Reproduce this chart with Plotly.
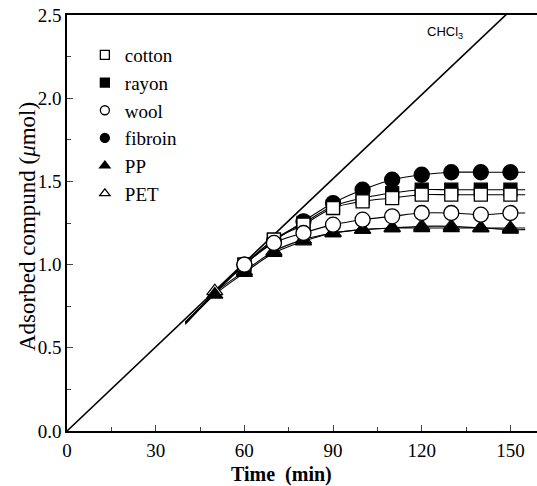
import plotly.graph_objects as go

# ---- data ----
time_min = [50, 60, 70, 80, 90, 100, 110, 120, 130, 140, 150]
cotton  = [None, 1.00, 1.15, 1.24, 1.34, 1.38, 1.40, 1.42, 1.42, 1.42, 1.42]
rayon   = [None, 1.00, 1.15, 1.25, 1.35, 1.40, 1.43, 1.45, 1.45, 1.45, 1.45]
wool    = [None, 1.00, 1.13, 1.19, 1.24, 1.27, 1.29, 1.31, 1.31, 1.30, 1.31]
fibroin = [None, 1.00, 1.14, 1.26, 1.37, 1.45, 1.51, 1.54, 1.555, 1.555, 1.555]
pp      = [0.82, 0.95, 1.07, 1.14, 1.19, 1.21, 1.22, 1.22, 1.22, 1.22, 1.21]
pet     = [0.84, 0.96, 1.08, 1.15, 1.19, 1.21, 1.22, 1.23, 1.23, 1.22, 1.22]

# fitted-curve points (start near t=40, value near t=50 for the curve, end near t=155)
fit_start_t, fit_mid_t, fit_end_t = 40, 50, 155
fit_start = {"cotton": 0.65, "rayon": 0.65, "wool": 0.655, "fibroin": 0.65, "PP": 0.64, "PET": 0.645}
fit_mid = {"cotton": 0.83, "rayon": 0.83, "wool": 0.83, "fibroin": 0.83, "PP": 0.82, "PET": 0.83}
fit_end = {"cotton": 1.42, "rayon": 1.45, "wool": 1.31, "fibroin": 1.555, "PP": 1.21, "PET": 1.22}

# CHCl3 reference line
chcl3_t = [0, 160]
chcl3_v = [0.0, 2.695]

x_ticks = [0, 30, 60, 90, 120, 150]
y_ticks = [0.0, 0.5, 1.0, 1.5, 2.0, 2.5]
y_tick_text = ["0.0", "0.5", "1.0", "1.5", "2.0", "2.5"]

series = {
    "cotton": cotton, "rayon": rayon, "wool": wool,
    "fibroin": fibroin, "PP": pp, "PET": pet,
}
styles = {
    "cotton":  dict(symbol="square", color="white", size=13),
    "rayon":   dict(symbol="square", color="black", size=13),
    "wool":    dict(symbol="circle", color="white", size=15),
    "fibroin": dict(symbol="circle", color="black", size=15),
    "PP":      dict(symbol="triangle-up", color="black", size=14),
    "PET":     dict(symbol="triangle-up", color="white", size=14),
}
legend_order = ["cotton", "rayon", "wool", "fibroin", "PP", "PET"]
draw_order = ["PET", "PP", "rayon", "fibroin", "cotton", "wool"]

fig = go.Figure()

# CHCl3 line
fig.add_trace(go.Scatter(x=chcl3_t, y=chcl3_v, mode="lines",
                         line=dict(color="black", width=1.6), showlegend=False,
                         hoverinfo="skip"))

# fitted curves
for name in draw_order:
    xs = [fit_start_t, fit_mid_t] + time_min[1:] + [fit_end_t]
    ys = [fit_start[name], fit_mid[name]] + series[name][1:] + [fit_end[name]]
    fig.add_trace(go.Scatter(x=xs, y=ys, mode="lines",
                             line=dict(color="black", width=1.1, shape="spline", smoothing=1.0),
                             showlegend=False, hoverinfo="skip"))

# markers
for name in draw_order:
    s = styles[name]
    fig.add_trace(go.Scatter(x=time_min, y=series[name], mode="markers", name=name,
                             marker=dict(symbol=s["symbol"], color=s["color"], size=s["size"],
                                         line=dict(color="black", width=1.3)),
                             showlegend=False))

# legend entries (small symbols as in the reference)
for name in legend_order:
    s = styles[name]
    fig.add_trace(go.Scatter(x=[None], y=[None], mode="markers", name=name,
                             marker=dict(symbol=s["symbol"], color=s["color"], size=9,
                                         line=dict(color="black", width=1.3)),
                             showlegend=True))

serif = "Liberation Serif, Times New Roman, serif"
fig.update_layout(
    width=537, height=486,
    margin=dict(l=67, r=0, t=15, b=55),
    paper_bgcolor="white", plot_bgcolor="white",
    font=dict(family=serif, color="black", size=19),
    showlegend=True,
    legend=dict(x=0.038, y=0.9495, xanchor="left", yanchor="top",
                bgcolor="rgba(0,0,0,0)", borderwidth=0,
                font=dict(family=serif, size=19),
                tracegroupgap=0, itemwidth=30),
    xaxis=dict(range=[0, 159], tickvals=x_ticks, ticks="inside", ticklen=6, tickwidth=1,
               showline=True, linecolor="black", linewidth=1.5, mirror=True,
               showgrid=False, zeroline=False, ticklabelstandoff=1,
               tickfont=dict(size=19),
               minor=dict(dtick=15, tick0=0, ticks="inside", ticklen=4, tickwidth=1, showgrid=False)),
    yaxis=dict(range=[0, 2.5], tickvals=y_ticks, ticktext=y_tick_text, ticks="inside",
               ticklen=6, tickwidth=1,
               showline=True, linecolor="black", linewidth=1.5, mirror=False,
               showgrid=False, zeroline=False,
               tickfont=dict(size=19),
               minor=dict(dtick=0.25, tick0=0, ticks="inside", ticklen=4, tickwidth=1, showgrid=False)),
)

fig.add_annotation(text="CHCl<sub>3</sub>", xref="paper", yref="paper",
                   x=(445 - 67) / 470, y=(431 - 33) / 416, xanchor="center", yanchor="middle",
                   showarrow=False,
                   font=dict(family="Liberation Sans, Arial, sans-serif", size=13))
fig.add_annotation(text="<b>Time  (min)</b>", xref="paper", yref="paper",
                   x=(281 - 67) / 470, y=(431 - 474) / 416, xanchor="center", yanchor="middle",
                   showarrow=False, font=dict(family=serif, size=20))
fig.add_annotation(text="Adsorbed compund (<i>μ</i>mol)", xref="paper", yref="paper",
                   x=(27 - 67) / 470, y=(431 - 227) / 416, textangle=-90,
                   xanchor="center", yanchor="middle", showarrow=False,
                   font=dict(family=serif, size=23))

fig.write_html("out.html")
